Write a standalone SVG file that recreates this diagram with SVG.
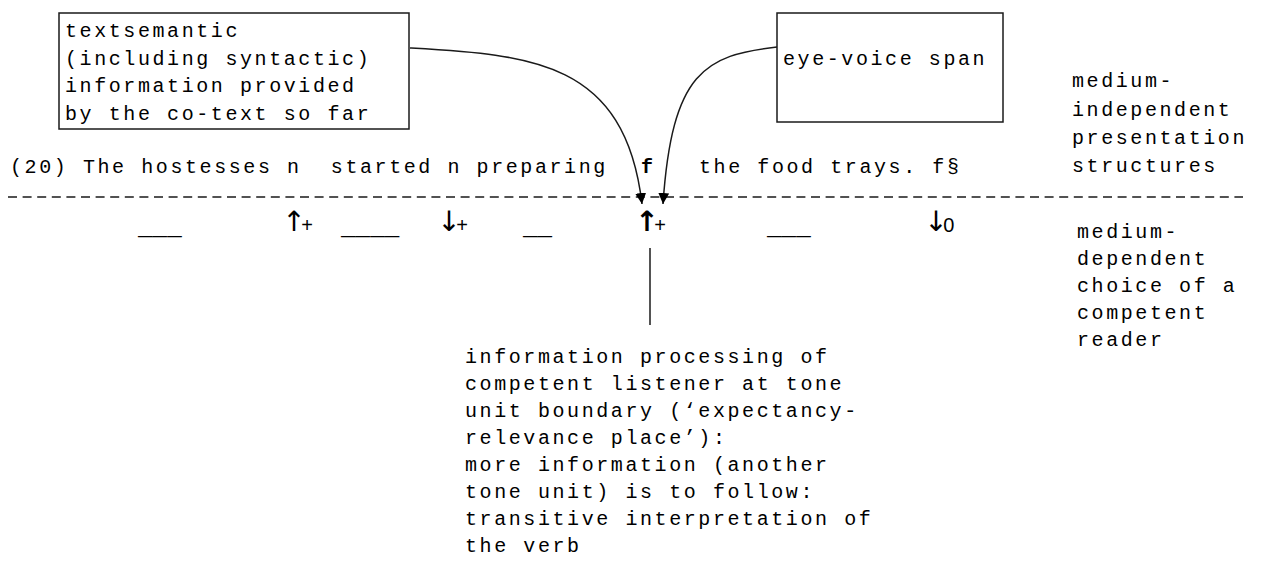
<svg xmlns="http://www.w3.org/2000/svg" width="1264" height="562" viewBox="0 0 1264 562">
  <style>
    .mono { font-family: "Liberation Mono", "Courier New", monospace; font-size: 20px; letter-spacing: 2.58px; fill: #000; white-space: pre; }
    .line { font-family: "Liberation Mono", "Courier New", monospace; font-size: 24.3px; fill: #000; white-space: pre; }
    .bold { font-weight: bold; }
    .arrow { font-family: "DejaVu Sans", sans-serif; font-size: 28px; fill: #000; }
    .tight { letter-spacing: -4.5px; }
    .sub { font-family: "Liberation Sans", "DejaVu Sans", sans-serif; font-size: 20px; font-weight: normal; }
    .box { fill: #fff; stroke: #1a1a1a; stroke-width: 1.5; }
    .conn { fill: none; stroke: #1a1a1a; stroke-width: 1.5; }
    .rule { fill: none; stroke: #1a1a1a; stroke-width: 1.5; stroke-dasharray: 9 5.6; }
  </style>
  <defs>
    <marker id="head" viewBox="0 0 10 10" refX="10" refY="5" markerWidth="11" markerHeight="11" markerUnits="userSpaceOnUse" orient="auto">
      <path d="M0,0 L10,5 L0,10 Z" fill="#000"/>
    </marker>
  </defs>

  <!-- boundary between the two levels -->
  <line class="rule" x1="8" y1="197" x2="1243" y2="197"/>

  <!-- connectors -->
  <g id="connectors">
    <path class="conn" d="M410,48 C530,55 625,60 642,204" marker-end="url(#head)"/>
    <path class="conn" d="M777,47 C705,55 672,72 663,204" marker-end="url(#head)"/>
    <line class="conn" x1="650" y1="248" x2="650" y2="325"/>
  </g>

  <g id="box-textsemantic">
    <rect class="box" x="59" y="13" width="350" height="116"/>
    <text class="mono">
      <tspan x="65" y="37">textsemantic</tspan>
      <tspan x="65" y="64.5">(including syntactic)</tspan>
      <tspan x="65" y="92">information provided</tspan>
      <tspan x="65" y="119.5">by the co-text so far</tspan>
    </text>
  </g>

  <g id="box-eye-voice">
    <rect class="box" x="777" y="13" width="226" height="109"/>
    <text class="mono" x="783" y="65">eye-voice span</text>
  </g>

  <g id="label-independent">
    <text class="mono">
      <tspan x="1072" y="87">medium-</tspan>
      <tspan x="1072" y="115.5">independent</tspan>
      <tspan x="1072" y="144">presentation</tspan>
      <tspan x="1072" y="172">structures</tspan>
    </text>
  </g>

  <g id="label-dependent">
    <text class="mono">
      <tspan x="1077" y="238">medium-</tspan>
      <tspan x="1077" y="265">dependent</tspan>
      <tspan x="1077" y="292">choice of a</tspan>
      <tspan x="1077" y="319">competent</tspan>
      <tspan x="1077" y="346">reader</tspan>
    </text>
  </g>

  <g id="sentence">
    <text class="mono" x="10" y="173">(20) The hostesses n  started n preparing</text>
    <text class="mono bold" x="641" y="173">f</text>
    <text class="mono" x="699" y="173">the food trays. f§</text>
  </g>

  <g id="tone-marks">
    <text class="line" x="138" y="235">___</text>
    <text class="arrow" x="282.3" y="231"><tspan class="tight">↑</tspan><tspan class="sub" dy="1">+</tspan></text>
    <text class="line" x="341" y="235">____</text>
    <text class="arrow" x="437.3" y="231"><tspan class="tight">↓</tspan><tspan class="sub" dy="1">+</tspan></text>
    <text class="line" x="523" y="235">__</text>
    <text class="arrow" x="635.3" y="231" font-weight="bold"><tspan class="tight">↑</tspan><tspan class="sub" dy="1">+</tspan></text>
    <text class="line" x="767" y="235">___</text>
    <text class="arrow" x="924.3" y="231"><tspan class="tight">↓</tspan><tspan class="sub" dy="1">0</tspan></text>
  </g>

  <g id="label-processing">
    <text class="mono">
      <tspan x="465" y="363">information processing of</tspan>
      <tspan x="465" y="390">competent listener at tone</tspan>
      <tspan x="465" y="417">unit boundary (‘expectancy-</tspan>
      <tspan x="465" y="444">relevance place’):</tspan>
      <tspan x="465" y="471">more information (another</tspan>
      <tspan x="465" y="498">tone unit) is to follow:</tspan>
      <tspan x="465" y="525">transitive interpretation of</tspan>
      <tspan x="465" y="552">the verb</tspan>
    </text>
  </g>
</svg>
